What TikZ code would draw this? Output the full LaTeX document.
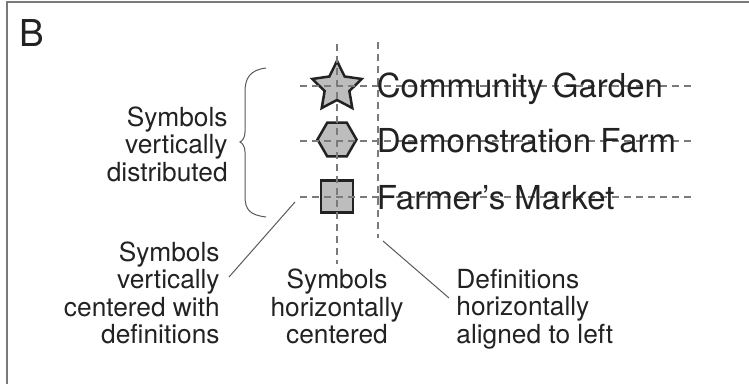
\documentclass[tikz,border=0pt]{standalone}
\usepackage{fontspec}
\setmainfont{TeX Gyre Heros}
\usetikzlibrary{shapes.geometric}
\definecolor{guidegray}{HTML}{7A7A7A}
\definecolor{ink}{HTML}{222222}
\definecolor{symfill}{HTML}{BDBDBD}
\tikzset{
  guide/.style={guidegray,line width=0.6pt,dash pattern=on 3.5pt off 2.5pt},
  leader/.style={ink!75,line width=0.5pt},
  symbol/.style={draw=ink,fill=symfill,line width=1.25pt,inner sep=0pt},
  deftext/.style={text=ink,font=\fontsize{16.5}{18}\selectfont,inner sep=0pt,anchor=base west},
  note/.style={text=ink,font=\fontsize{13.15}{13.75}\selectfont,inner sep=0pt}
}

\begin{document}
\begin{tikzpicture}[x=0.5pt,y=-0.5pt]
    \useasboundingbox (0,0) rectangle (749,384);
    \draw[guidegray,line width=1pt] (7,384) -- (7,2) -- (749,2);
    \node[anchor=base west,inner sep=0pt,text=ink,font=\fontsize{18.5}{20}\selectfont] (panel) at (19,47) {B};

    % symbols
    \node[symbol,star,star points=5,star point ratio=2.0,minimum size=26pt] (garden) at (337,87) {};
    \node[symbol,regular polygon,regular polygon sides=6,minimum size=19.5pt] (farm) at (337,139.5) {};
    \node[symbol,rectangle,minimum size=16pt] (market) at (337,196.5) {};

    % alignment guides
    \draw[guide] (337,44) -- (337,264);
    \draw[guide] (378,42) -- (378,238);
    \foreach \y in {86,141,197}
      \draw[guide] (300,\y) -- (694,\y);

    % definitions
    \node[deftext] (cg) at (376.5,97.5) {Community Garden};
    \node[deftext] (df) at (376.5,153) {Demonstration Farm};
    \node[deftext] (fm) at (376.5,210) {Farmer’s Market};

    % notes
    \node[note,align=right,anchor=east] (distrib) at (228,144) {Symbols\\vertically\\distributed};
    \node[note,align=right,anchor=east] (vcenter) at (220,293) {Symbols\\vertically\\centered with\\definitions};
    \node[note,align=center] (hcenter) at (337,306.5) {Symbols\\horizontally\\centered};
    \node[note,align=left,anchor=west] (leftalign) at (456,309) {Definitions\\horizontally\\aligned to left};

    % brace
    \draw[leader] (266,68) .. controls (250,70) and (245,78) .. (245,92) -- (245,132)
      .. controls (245,138) and (242,141) .. (240,142)
      .. controls (242,143) and (245,146) .. (245,152) -- (245,196)
      .. controls (245,210) and (250,215) .. (266,217);

    % leaders
    \coordinate (vc row) at (295,202);
    \coordinate (vc note) at (229,277);
    \coordinate (la guide) at (383,241);
    \coordinate (la note) at (449,298);
    \draw[leader] (vc row) -- (vc note);
    \draw[leader] (la guide) -- (la note);
\end{tikzpicture}
\end{document}
